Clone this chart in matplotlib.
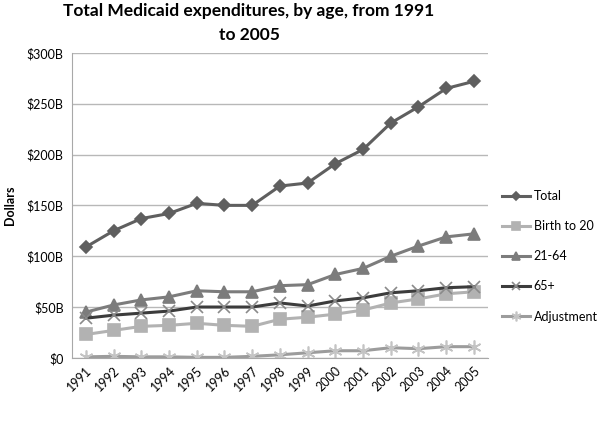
import numpy as np
import matplotlib.pyplot as plt

plt.rcParams['font.family'] = ['Lato', 'DejaVu Sans']

years = [str(y) for y in range(1991, 2006)]
total = [109, 125, 137, 142, 152, 150, 150, 169, 172, 191, 205, 231, 247, 265, 272]
birth_20 = [23, 27, 31, 32, 34, 32, 31, 38, 40, 43, 47, 54, 58, 63, 65]
age_21_64 = [45, 52, 57, 60, 66, 65, 65, 71, 72, 82, 88, 100, 110, 119, 122]
age_65 = [39, 42, 44, 46, 50, 50, 50, 54, 51, 56, 59, 64, 66, 69, 70]
adjustment = [1, 1.5, 1, 1, 0.5, 0.5, 1.5, 3, 5, 7, 7, 10, 9, 11, 11]

series = [
    ('Total', total, '#5f5f5f', 'D', 6, '#5f5f5f'),
    ('Birth to 20', birth_20, '#b2b2b2', 's', 9, '#b2b2b2'),
    ('21-64', age_21_64, '#7c7c7c', '^', 9, '#7c7c7c'),
    ('65+', age_65, '#3c3c3c', 'x', 9, '#8a8a8a'),
    ('Adjustment', adjustment, '#9c9c9c', (6, 2, 0), 10, '#c4c4c4'),
]

fig = plt.figure(figsize=(6, 4.23), dpi=100)
ax = fig.add_axes([0.12, 0.154, 0.693, 0.721])

x = np.arange(len(years))
for name, vals, col, mk, ms, mcol in series:
    ax.plot(x, vals, color=col, lw=2.2, marker=mk, markersize=ms,
            markerfacecolor=mcol, markeredgecolor=mcol, markeredgewidth=1.2, label=name)

ax.set_xlim(-0.5, len(years) - 0.5)
ax.set_ylim(0, 300)
ax.set_yticks([0, 50, 100, 150, 200, 250, 300])
ax.set_yticklabels(['$0', '$50B', '$100B', '$150B', '$200B', '$250B', '$300B'], fontsize=9)
ax.set_xticks(x)
ax.set_xticklabels(years, rotation=45, ha='right', rotation_mode='anchor', fontsize=9)
ax.tick_params(axis='y', length=0, pad=6)
ax.tick_params(axis='x', length=0, pad=5)
ax.grid(axis='y', color='#b8b8b8', lw=1)
ax.set_axisbelow(True)
for s in ['top', 'right']:
    ax.spines[s].set_visible(False)
ax.spines['left'].set_color('#a8a8a8')
ax.spines['bottom'].set_color('#a8a8a8')

ax.set_ylabel('Dollars', fontsize=9, fontweight='bold', labelpad=8)
fig.suptitle('Total Medicaid expenditures, by age, from 1991\nto 2005', fontsize=12.5,
             fontweight='bold', x=0.415, y=0.993, linespacing=1.6)

ax.legend(loc='center left', bbox_to_anchor=(1.035, 0.333), frameon=False, fontsize=9,
          borderpad=0, borderaxespad=0, labelspacing=1.45, handlelength=2.2,
          handletextpad=0.3, markerscale=0.7)

fig.savefig('out.png', dpi=100)
